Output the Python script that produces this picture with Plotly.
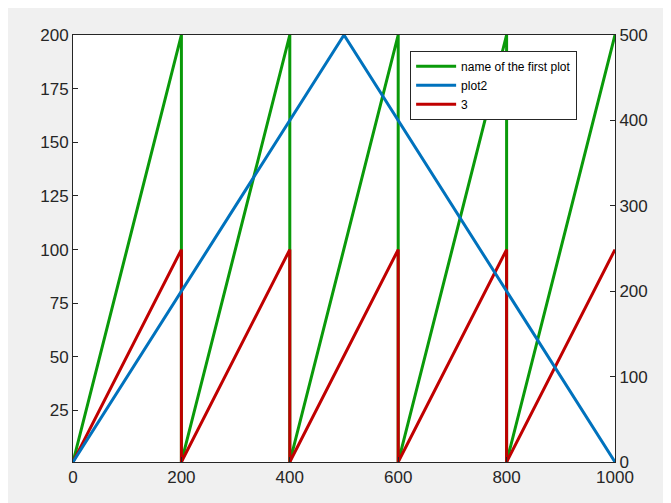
import plotly.graph_objects as go

# sawtooth and triangle data
x_saw = [0, 200, 200, 400, 400, 600, 600, 800, 800, 1000]
green = [1, 200, 1, 200, 1, 200, 1, 200, 1, 200]
red = [1, 100, 1, 100, 1, 100, 1, 100, 1, 100]
x_tri = [0, 500, 1000]
blue = [0, 500, 0]

fig = go.Figure()
fig.add_trace(go.Scatter(x=x_saw, y=green, mode="lines", name="name of the first plot",
                         line=dict(color="#0a9a0a", width=3)))
fig.add_trace(go.Scatter(x=x_tri, y=blue, mode="lines", name="plot2", yaxis="y2",
                         line=dict(color="#0072BD", width=3)))
fig.add_trace(go.Scatter(x=x_saw, y=red, mode="lines", name="3",
                         line=dict(color="#C00000", width=3)))

axis_common = dict(ticks="inside", ticklen=5, tickcolor="#262626", linecolor="#262626",
                   showline=True, showgrid=False, zeroline=False, automargin=False,
                   tickfont=dict(size=17, color="#262626"))

fig.update_layout(
    width=671, height=503,
    paper_bgcolor="#f0f0f0", plot_bgcolor="white",
    margin=dict(l=65, r=64, t=27, b=49),
    font=dict(family="Liberation Sans, Arial, sans-serif"),
    xaxis=dict(range=[0, 1000], tickvals=[0, 200, 400, 600, 800, 1000], mirror=True, **axis_common),
    yaxis=dict(range=[1, 200], tickvals=[25, 50, 75, 100, 125, 150, 175, 200], **axis_common),
    yaxis2=dict(range=[0, 500], tickvals=[0, 100, 200, 300, 400, 500], overlaying="y", side="right",
                **axis_common),
    legend=dict(x=0.622, y=0.963, xanchor="left", yanchor="top", bgcolor="white",
                bordercolor="#262626", borderwidth=1, font=dict(size=12, color="black"),
                tracegroupgap=0, itemwidth=40),
    showlegend=True,
)

fig.write_html("out.html")
